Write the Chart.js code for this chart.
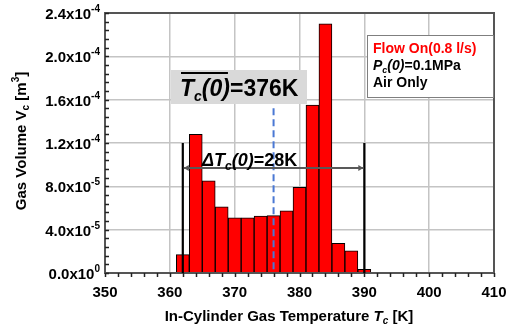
<!DOCTYPE html>
<html>
<head>
<meta charset="utf-8">
<script src="https://cdn.jsdelivr.net/npm/chart.js@4.4.1/dist/chart.umd.min.js"></script>
<style>
  html, body { margin: 0; padding: 0; background: #fff; }
  #wrap { width: 509px; height: 329px; }
</style>
</head>
<body>
<div id="wrap"><canvas id="histChart" width="509" height="329"></canvas></div>
<script>
// ===== Data =====
const binCenters = [360, 362, 364, 366, 368, 370, 372, 374, 376, 378, 380, 382, 384, 386, 388, 390, 392, 394, 396, 398, 400, 402];
const gasVolume = [0, 1.7e-5, 1.28e-4, 8.5e-5, 6.1e-5, 5.1e-5, 5.1e-5, 5.25e-5, 5.3e-5, 5.75e-5, 7.9e-5, 1.55e-4, 2.3e-4, 2.75e-5, 2.05e-5, 3.5e-6, 0, 0, 0, 0, 0, 0];
const xTickValues = [350, 360, 370, 380, 390, 400, 410];
const yTickValues = [0, 4e-5, 8e-5, 1.2e-4, 1.6e-4, 2.0e-4, 2.4e-4];
const meanTemp = 376;
const spreadLimits = [362, 390];
const spreadLabel = "=28K";
const meanLabel = "=376K";

const FONT = '"Liberation Sans", Arial, sans-serif';

// ===== Helpers =====
function partFont(p) {
    return (p.it ? "italic " : "") + "bold " + p.size + "px " + FONT;
}

function richWidth(ctx, parts) {
    let w = 0;
    parts.forEach(p => {
        ctx.font = partFont(p);
        w += ctx.measureText(p.t).width;
    });
    return w;
}

function drawRich(ctx, parts, x, y, align) {
    const w = richWidth(ctx, parts);
    let cx = x;
    if (align === "center") cx = x - w / 2;
    if (align === "right") cx = x - w;
    ctx.textBaseline = "alphabetic";
    ctx.textAlign = "left";
    parts.forEach(p => {
        ctx.font = partFont(p);
        ctx.fillStyle = p.color || "#000";
        ctx.fillText(p.t, cx, y + (p.dy || 0));
        cx += ctx.measureText(p.t).width;
    });
    return cx;
}

function yTickParts(v) {
    const exp = v === 0 ? 0 : Math.floor(Math.log10(v) + 1e-9);
    const mant = v === 0 ? 0 : v / Math.pow(10, exp);
    return [
        { t: mant.toFixed(1) + "x10", size: 15 },
        { t: String(exp), size: 10, dy: -7 }
    ];
}

// ===== Plugin for axes, labels and annotations =====
const decorPlugin = {
    id: "decor",
    afterDraw(chart) {
        const ctx = chart.ctx;
        const xs = chart.scales.x;
        const ys = chart.scales.y;
        const area = chart.chartArea;
        ctx.save();

        // frame
        ctx.strokeStyle = "#555";
        ctx.lineWidth = 2;
        ctx.strokeRect(area.left, area.top, area.right - area.left, area.bottom - area.top);

        // y minor ticks (inside)
        ctx.strokeStyle = "#222";
        ctx.lineWidth = 1.5;
        for (let v = 0; v <= 2.4e-4 + 1e-9; v += 8e-6) {
            const py = Math.round(ys.getPixelForValue(v)) + 0.5;
            ctx.beginPath();
            ctx.moveTo(area.left, py);
            ctx.lineTo(area.left + 4, py);
            ctx.stroke();
        }
        // x minor ticks (outside)
        for (let v = 350; v <= 410; v += 2) {
            const px = Math.round(xs.getPixelForValue(v)) + 0.5;
            ctx.beginPath();
            ctx.moveTo(px, area.bottom);
            ctx.lineTo(px, area.bottom + 4);
            ctx.stroke();
        }

        // tick labels
        yTickValues.forEach(v => {
            drawRich(ctx, yTickParts(v), 100, ys.getPixelForValue(v) + 6, "right");
        });
        xTickValues.forEach(v => {
            drawRich(ctx, [{ t: String(v), size: 15 }], xs.getPixelForValue(v), 297, "center");
        });

        // axis titles
        drawRich(ctx, [
            { t: "In-Cylinder Gas Temperature ", size: 15 },
            { t: "T", size: 15, it: true },
            { t: "c", size: 10, it: true, dy: 3 },
            { t: " [K]", size: 15 }
        ], 289, 321, "center");

        ctx.save();
        ctx.translate(26, 141);
        ctx.rotate(-Math.PI / 2);
        drawRich(ctx, [
            { t: "Gas Volume V", size: 15 },
            { t: "c", size: 10, dy: 3 },
            { t: " [m", size: 15 },
            { t: "3", size: 10, dy: -7 },
            { t: "]", size: 15 }
        ], 0, 0, "center");
        ctx.restore();

        // spread limit lines
        const top = ys.getPixelForValue(1.2e-4);
        ctx.strokeStyle = "#000";
        ctx.lineWidth = 2.2;
        spreadLimits.forEach(t => {
            const px = xs.getPixelForValue(t);
            ctx.beginPath();
            ctx.moveTo(px, top);
            ctx.lineTo(px, area.bottom);
            ctx.stroke();
        });

        // mean dashed line
        const mx = xs.getPixelForValue(meanTemp);
        ctx.strokeStyle = "#4a78d4";
        ctx.lineWidth = 2;
        ctx.setLineDash([7, 4]);
        ctx.beginPath();
        ctx.moveTo(mx, ys.getPixelForValue(1.52e-4));
        ctx.lineTo(mx, area.bottom);
        ctx.stroke();
        ctx.setLineDash([]);

        // double arrow
        const ay = ys.getPixelForValue(9.7e-5);
        const ax1 = xs.getPixelForValue(spreadLimits[0]) + 1;
        const ax2 = xs.getPixelForValue(spreadLimits[1]) - 1;
        ctx.strokeStyle = "#595959";
        ctx.fillStyle = "#595959";
        ctx.lineWidth = 2;
        ctx.beginPath();
        ctx.moveTo(ax1, ay);
        ctx.lineTo(ax2, ay);
        ctx.stroke();
        [[ax1, 1], [ax2, -1]].forEach(([x, d]) => {
            ctx.beginPath();
            ctx.moveTo(x, ay);
            ctx.lineTo(x + d * 5, ay - 3);
            ctx.lineTo(x + d * 5, ay + 3);
            ctx.closePath();
            ctx.fill();
        });

        // delta label
        drawRich(ctx, [
            { t: "\u0394T", size: 18, it: true },
            { t: "c", size: 12, it: true, dy: 4 },
            { t: "(0)", size: 18, it: true },
            { t: spreadLabel, size: 18 }
        ], 202, 166, "left");

        // mean temperature box
        ctx.fillStyle = "#d9d9d9";
        ctx.fillRect(171, 70, 136, 34);
        const endT = drawRich(ctx, [
            { t: "T", size: 23, it: true },
            { t: "c", size: 14, it: true, dy: 5 },
            { t: "(0)", size: 23, it: true }
        ], 180, 96, "left");
        drawRich(ctx, [{ t: meanLabel, size: 23 }], endT, 96, "left");
        ctx.strokeStyle = "#000";
        ctx.lineWidth = 2;
        ctx.beginPath();
        ctx.moveTo(181, 73);
        ctx.lineTo(endT - 2, 73);
        ctx.stroke();

        // legend box
        ctx.fillStyle = "#fff";
        ctx.fillRect(367, 35, 126, 62);
        ctx.strokeStyle = "#7f7f7f";
        ctx.lineWidth = 1;
        ctx.strokeRect(367.5, 35.5, 126, 62);
        drawRich(ctx, [{ t: "Flow On(0.8 l/s)", size: 14, color: "#ff0000" }], 373, 53, "left");
        drawRich(ctx, [
            { t: "P", size: 14, it: true },
            { t: "c", size: 9, it: true, dy: 3 },
            { t: "(0)", size: 14, it: true },
            { t: "=0.1MPa", size: 14 }
        ], 373, 70, "left");
        drawRich(ctx, [{ t: "Air Only", size: 14 }], 373, 87, "left");

        ctx.restore();
    }
};

// ===== Chart =====
const ctx = document.getElementById("histChart").getContext("2d");
new Chart(ctx, {
    type: "bar",
    data: {
        datasets: [{
            data: binCenters.map((t, i) => ({ x: t, y: gasVolume[i] })),
            backgroundColor: "#ff0000",
            borderColor: "#000",
            borderWidth: 1,
            barPercentage: 1,
            categoryPercentage: 1
        }]
    },
    options: {
        responsive: false,
        animation: false,
        layout: { padding: { left: 105, right: 15, top: 13, bottom: 56 } },
        scales: {
            x: {
                type: "linear",
                offset: false,
                min: 350,
                max: 410,
                ticks: { display: false, stepSize: 10 },
                grid: { color: "#c4c4c4", lineWidth: 1.5, drawTicks: false, offset: false },
                border: { display: false }
            },
            y: {
                min: 0,
                max: 2.4e-4,
                ticks: { display: false, stepSize: 4e-5 },
                grid: { color: "#c4c4c4", lineWidth: 1.5, drawTicks: false },
                border: { display: false }
            }
        },
        plugins: {
            legend: { display: false },
            tooltip: { enabled: false }
        }
    },
    plugins: [decorPlugin]
});
</script>
</body>
</html>
